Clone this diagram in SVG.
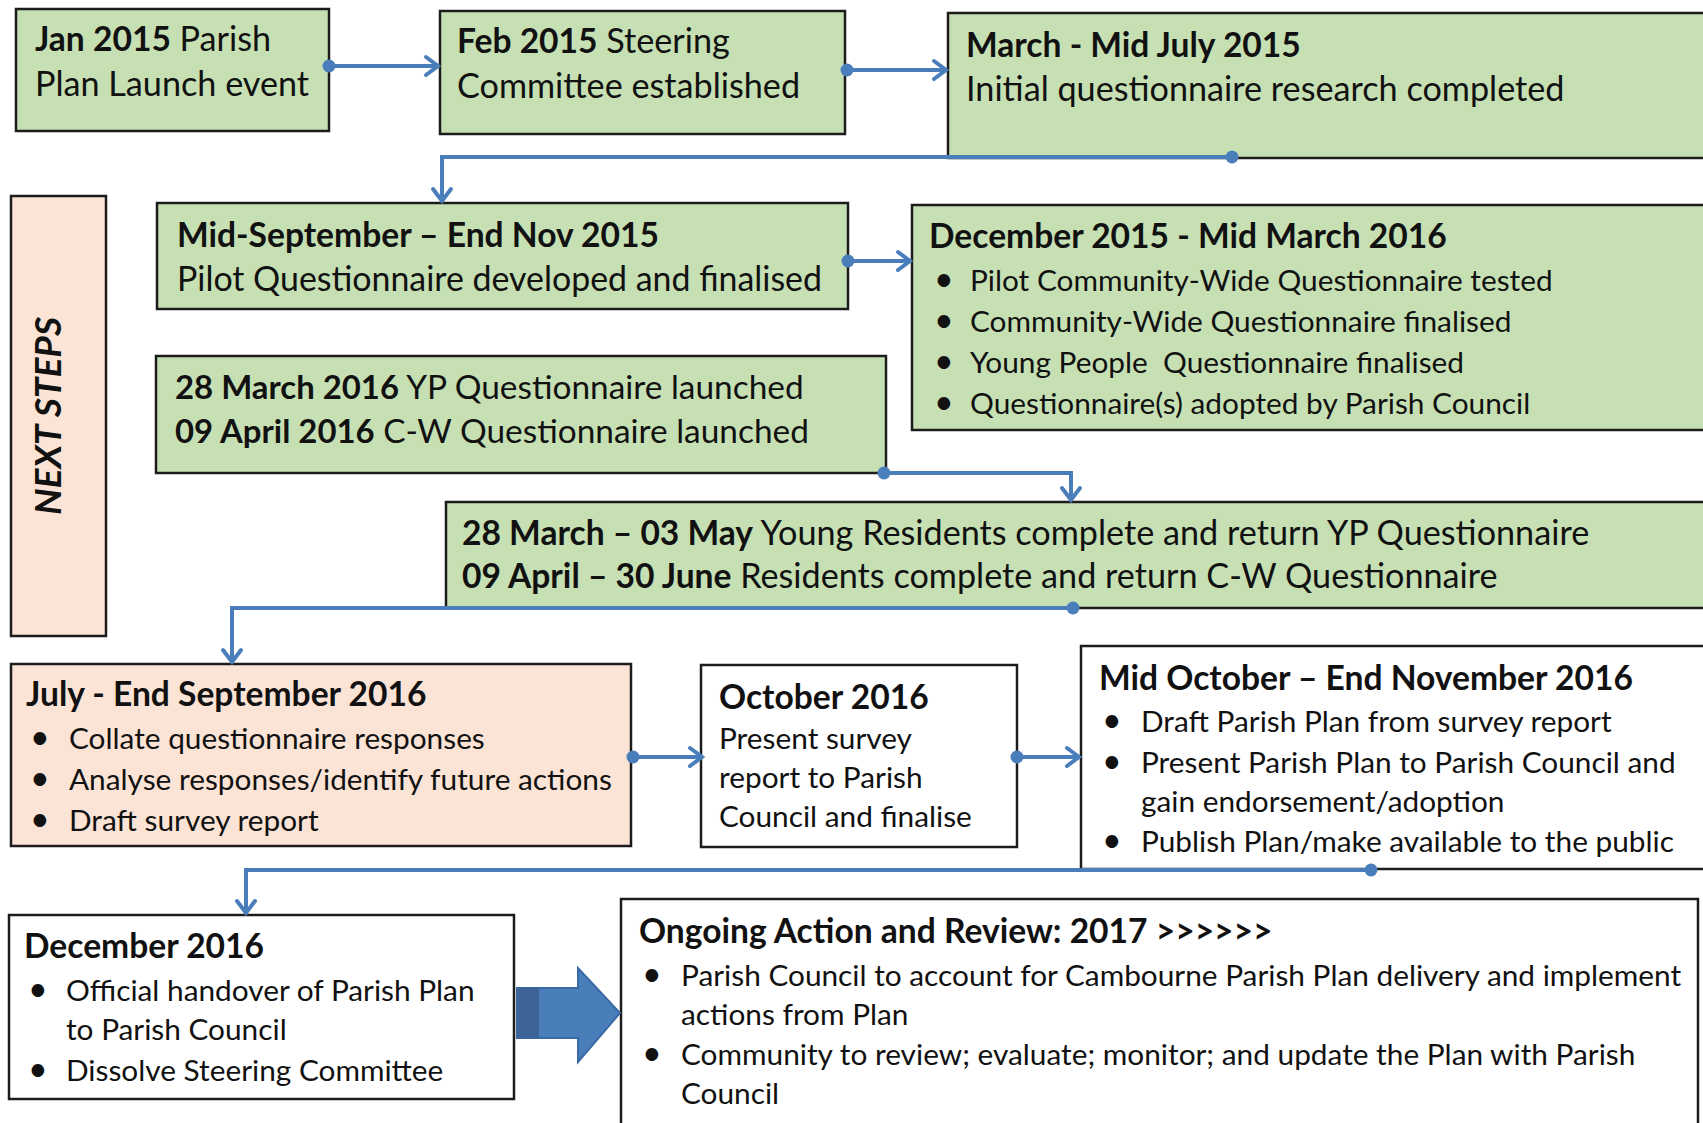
<svg xmlns="http://www.w3.org/2000/svg" width="1703" height="1123" viewBox="0 0 1703 1123">
<style>
.box{stroke:#1c1c1c;stroke-width:2.5}
.g{fill:#c6e0b4}
.p{fill:#fbe4d5}
.w{fill:#ffffff}
text{font-family:Lato,"Liberation Sans",sans-serif;fill:#111}
.m{font-size:34.2px}
.s{font-size:29.8px}
.b{font-weight:bold;font-size:33.6px}
.d{font-size:34px}
.n6 .m{font-size:33.4px}
.n6 .b{font-size:32.9px}
.conn{stroke:#4a7ebb;stroke-width:4;fill:none}
</style>
<defs>
<marker id="arr" markerUnits="userSpaceOnUse" markerWidth="20" markerHeight="24" refX="15" refY="12" orient="auto">
<path d="M3,3 L15,12 L3,21" fill="none" stroke="#4a7ebb" stroke-width="4" stroke-linecap="round" stroke-linejoin="miter"/>
</marker>
<marker id="dot" markerUnits="userSpaceOnUse" markerWidth="16" markerHeight="16" refX="8" refY="8">
<circle cx="8" cy="8" r="6.5" fill="#4a7ebb"/>
</marker>
</defs>
<rect width="1703" height="1123" fill="#ffffff"/>

<g id="next-steps">
<rect class="box p" x="11" y="196" width="95" height="440"/>
<text font-weight="bold" font-size="36" font-style="italic" transform="translate(47.5,416) rotate(-90)" x="0" y="13" text-anchor="middle" textLength="198" lengthAdjust="spacingAndGlyphs">NEXT STEPS</text>
</g>

<g id="n1">
<rect class="box g" x="16" y="9" width="313" height="122"/>
<text class="m" x="35" y="51"><tspan class="b">Jan 2015</tspan> Parish</text>
<text class="m" x="35" y="96">Plan Launch event</text>
</g>

<g id="n2">
<rect class="box g" x="440" y="11" width="405" height="123"/>
<text class="m" x="457" y="53"><tspan class="b">Feb 2015</tspan> Steering</text>
<text class="m" x="457" y="98">Committee established</text>
</g>

<g id="n3">
<rect class="box g" x="948" y="13" width="780" height="145"/>
<text class="b" x="966" y="57">March - Mid July 2015</text>
<text class="m" x="966" y="101">Initial questionnaire research completed</text>
</g>

<g id="n4">
<rect class="box g" x="157" y="203" width="691" height="106"/>
<text class="b" x="177" y="247">Mid-September – End Nov 2015</text>
<text class="m" x="177" y="291" style="font-size:33.9px">Pilot Questionnaire developed and finalised</text>
</g>

<g id="n5">
<rect class="box g" x="912" y="205" width="816" height="225"/>
<text class="b" x="929" y="248">December 2015 - Mid March 2016</text>
<text class="d" x="934" y="291">•</text><text class="s" x="970" y="291">Pilot Community-Wide Questionnaire tested</text>
<text class="d" x="934" y="332">•</text><text class="s" x="970" y="332">Community-Wide Questionnaire finalised</text>
<text class="d" x="934" y="373">•</text><text class="s" x="970" y="373" xml:space="preserve">Young People  Questionnaire finalised</text>
<text class="d" x="934" y="414">•</text><text class="s" x="970" y="414">Questionnaire(s) adopted by Parish Council</text>
</g>

<g id="n6" class="n6">
<rect class="box g" x="156" y="356" width="730" height="117"/>
<text class="m" x="175" y="399"><tspan class="b">28 March 2016</tspan> YP Questionnaire launched</text>
<text class="m" x="175" y="443"><tspan class="b">09 April 2016</tspan> C-W Questionnaire launched</text>
</g>

<g id="n7">
<rect class="box g" x="446" y="502" width="1282" height="106"/>
<text class="m" x="462" y="545"><tspan class="b">28 March – 03 May</tspan> Young Residents complete and return YP Questionnaire</text>
<text class="m" x="462" y="588"><tspan class="b">09 April – 30 June</tspan> Residents complete and return C-W Questionnaire</text>
</g>

<g id="n8">
<rect class="box p" x="11" y="664" width="620" height="182"/>
<text class="b" x="26" y="706">July - End September 2016</text>
<text class="d" x="30" y="749">•</text><text class="s" x="69" y="749">Collate questionnaire responses</text>
<text class="d" x="30" y="790">•</text><text class="s" x="69" y="790">Analyse responses/identify future actions</text>
<text class="d" x="30" y="831">•</text><text class="s" x="69" y="831">Draft survey report</text>
</g>

<g id="n9">
<rect class="box w" x="701" y="665" width="316" height="182"/>
<text class="b" x="719" y="709">October 2016</text>
<text class="s" x="719" y="749">Present survey</text>
<text class="s" x="719" y="788">report to Parish</text>
<text class="s" x="719" y="827">Council and finalise</text>
</g>

<g id="n10">
<rect class="box w" x="1081" y="646" width="647" height="223"/>
<text class="b" x="1099" y="690">Mid October – End November 2016</text>
<text class="d" x="1102" y="732">•</text><text class="s" x="1141" y="732">Draft Parish Plan from survey report</text>
<text class="d" x="1102" y="773">•</text><text class="s" x="1141" y="773">Present Parish Plan to Parish Council and</text>
<text class="s" x="1141" y="812">gain endorsement/adoption</text>
<text class="d" x="1102" y="852">•</text><text class="s" x="1141" y="852">Publish Plan/make available to the public</text>
</g>

<g id="n11">
<rect class="box w" x="9" y="915" width="505" height="184"/>
<text class="b" x="24" y="958">December 2016</text>
<text class="d" x="28" y="1001">•</text><text class="s" x="66" y="1001">Official handover of Parish Plan</text>
<text class="s" x="66" y="1040">to Parish Council</text>
<text class="d" x="28" y="1081">•</text><text class="s" x="66" y="1081">Dissolve Steering Committee</text>
</g>

<g id="n12">
<rect class="box w" x="621" y="899" width="1077" height="240"/>
<text class="b" x="639" y="943">Ongoing Action and Review: 2017 &gt;&gt;&gt;&gt;&gt;&gt;</text>
<text class="d" x="642" y="986">•</text><text class="s" x="681" y="986">Parish Council to account for Cambourne Parish Plan delivery and implement</text>
<text class="s" x="681" y="1025">actions from Plan</text>
<text class="d" x="642" y="1065">•</text><text class="s" x="681" y="1065">Community to review; evaluate; monitor; and update the Plan with Parish</text>
<text class="s" x="681" y="1104">Council</text>
</g>

<g id="connectors">
<path class="conn" d="M329,66 H438" marker-start="url(#dot)" marker-end="url(#arr)"/>
<path class="conn" d="M847,70 H946" marker-start="url(#dot)" marker-end="url(#arr)"/>
<path class="conn" d="M1232,157 H442 V201" marker-start="url(#dot)" marker-end="url(#arr)"/>
<path class="conn" d="M848,261 H910" marker-start="url(#dot)" marker-end="url(#arr)"/>
<path class="conn" d="M884,473 H1071 V500" marker-start="url(#dot)" marker-end="url(#arr)"/>
<path class="conn" d="M1073,608 H232 V662" marker-start="url(#dot)" marker-end="url(#arr)"/>
<path class="conn" d="M633,757 H702" marker-start="url(#dot)" marker-end="url(#arr)"/>
<path class="conn" d="M1017,757 H1079" marker-start="url(#dot)" marker-end="url(#arr)"/>
<path class="conn" d="M1371,870 H246 V913" marker-start="url(#dot)" marker-end="url(#arr)"/>
<g id="block-arrow">
<path d="M517,988 H578 V968 L620,1013 L578,1062 V1038 H517 Z" fill="#4a7ebb" stroke="#3a6aa6" stroke-width="2"/>
<rect x="517" y="988" width="22" height="50" fill="#3c6496"/>
</g>
</g>
</svg>
